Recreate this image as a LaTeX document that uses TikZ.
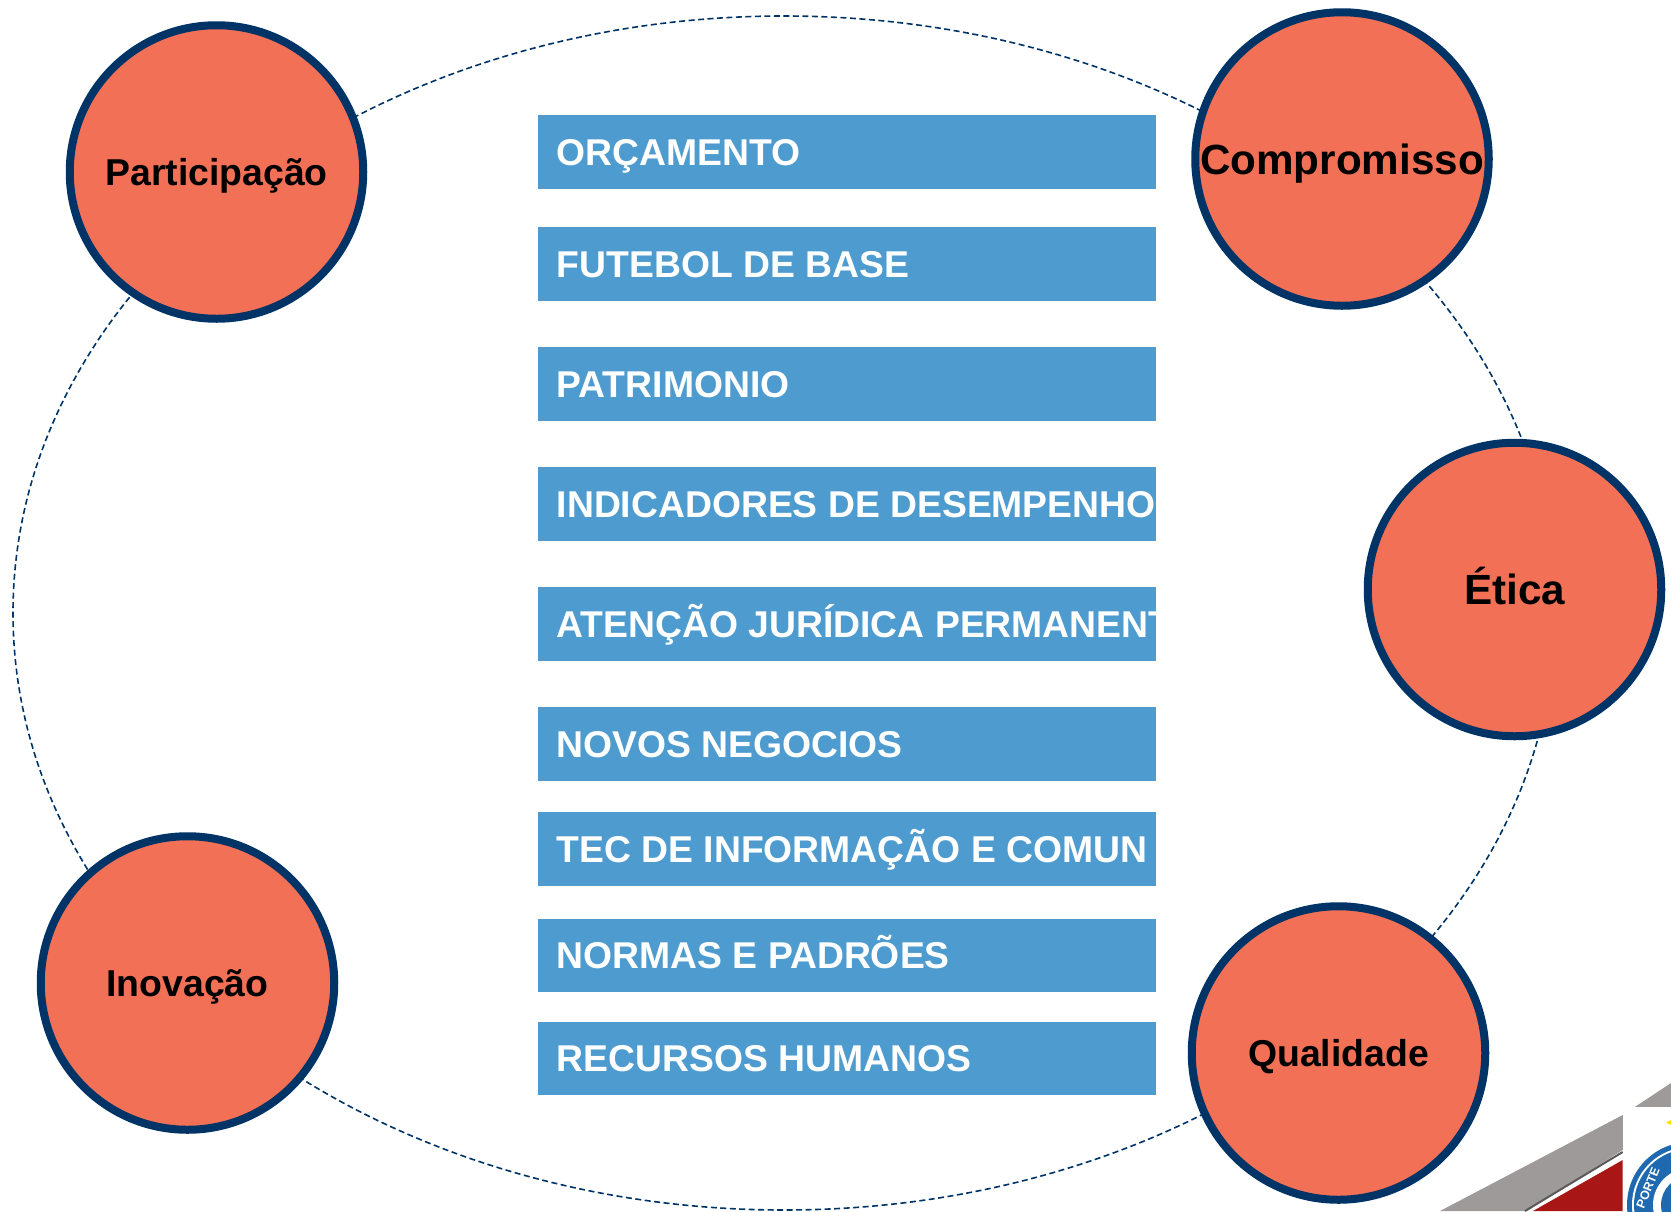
\documentclass[tikz,border=0pt]{standalone}
\usepackage{fontspec}
\setmainfont{Liberation Sans}
\usetikzlibrary{shapes.geometric}
\definecolor{salmon}{RGB}{241,112,86}
\definecolor{navy}{RGB}{0,51,102}
\definecolor{barblue}{RGB}{78,156,207}
\definecolor{bandgray}{RGB}{158,154,154}
\definecolor{flagred}{RGB}{168,22,22}
\definecolor{crestblue}{RGB}{30,105,175}
\tikzset{
  ring/.style={ellipse,draw=navy,dash pattern=on 6pt off 3.5pt,line width=1.6pt,minimum width=1542pt,minimum height=1194pt,inner sep=0pt},
  value/.style={circle,draw=navy,fill=salmon,line width=8pt,minimum size=293.5pt,inner sep=0pt,text height=27pt,text depth=0pt,font=\fontsize{37.4}{40}\selectfont\bfseries},
  bigvalue/.style={value,text height=30pt,font=\fontsize{42.2}{44}\selectfont\bfseries},
  bar/.style={anchor=north west,fill=barblue,minimum width=618pt,minimum height=73.3pt,inner sep=0pt},
  barlabel/.style={anchor=west,text=white,inner sep=0pt,text height=27pt,text depth=0pt,font=\fontsize{37.3}{40}\selectfont\bfseries}
}
\begin{document}
\begin{tikzpicture}[x=1pt,y=-1pt]
\useasboundingbox (0,0) rectangle (1671,1211);
\node (oval) at (784,613) [ring] {};

\node (participacao) at (216.5,172) [value] {Participação};
\node (compromisso) at (1342,159) [bigvalue] {Compromisso};
\node (etica) at (1514.5,589.5) [bigvalue] {Ética};
\node (inovacao) at (187.5,983) [value] {Inovação};
\node (qualidade) at (1338.5,1053) [value] {Qualidade};

\node (orcamento) at (538,115) [bar] {};
\node (futebol) at (538,227) [bar] {};
\node (patrimonio) at (538,347) [bar] {};
\node (indicadores) at (538,467) [bar] {};
\node (atencao) at (538,587) [bar] {};
\node (negocios) at (538,707) [bar] {};
\node (tec) at (537.5,812) [bar] {};
\node (normas) at (538,918.5) [bar] {};
\node (recursos) at (538,1021.5) [bar] {};

\node at ([xshift=18.5pt]orcamento.west) [barlabel] {ORÇAMENTO};
\node at ([xshift=18.5pt]futebol.west) [barlabel] {FUTEBOL DE BASE};
\node at ([xshift=18.5pt]patrimonio.west) [barlabel] {PATRIMONIO};
\node at ([xshift=18.5pt]indicadores.west) [barlabel] {INDICADORES DE DESEMPENHO};
\node at ([xshift=18.5pt]atencao.west) [barlabel] {ATENÇÃO JURÍDICA PERMANENT};
\node at ([xshift=18.5pt]negocios.west) [barlabel] {NOVOS NEGOCIOS};
\node at ([xshift=19pt]tec.west) [barlabel] {TEC DE INFORMAÇÃO E COMUN};
\node at ([xshift=18.5pt]normas.west) [barlabel] {NORMAS E PADRÕES};
\node at ([xshift=18.5pt]recursos.west) [barlabel] {RECURSOS HUMANOS};

% corner of the crest
\fill[bandgray] (1440,1211) -- (1622.7,1115) -- (1671,1083) -- (1671,1125) -- (1622.7,1150) -- (1527,1211) -- cycle;
\draw[black!65,line width=2pt] (1525,1211) -- (1622.7,1152);
\fill[flagred] (1533,1211) -- (1622.7,1160) -- (1622.7,1211) -- cycle;
\fill[white] (1622.7,1107) rectangle (1671,1211);
\begin{scope}
\clip (1622.7,1107) rectangle (1671,1211);
\fill[crestblue] (1690,1205) circle (63);
\fill[white] (1690,1205) circle (58);
\fill[crestblue] (1690,1205) circle (56);
\fill[white] (1690,1205) circle (37);
\fill[crestblue] (1690,1205) circle (29);
\node at (1648,1188) [rotate=68,text=white,inner sep=0pt,font=\fontsize{12.5}{12}\selectfont\bfseries] {PORTE};
\fill[yellow!85!orange] (1671,1120) -- (1666,1122.5) -- (1671,1125) -- cycle;
\end{scope}
\end{tikzpicture}
\end{document}
